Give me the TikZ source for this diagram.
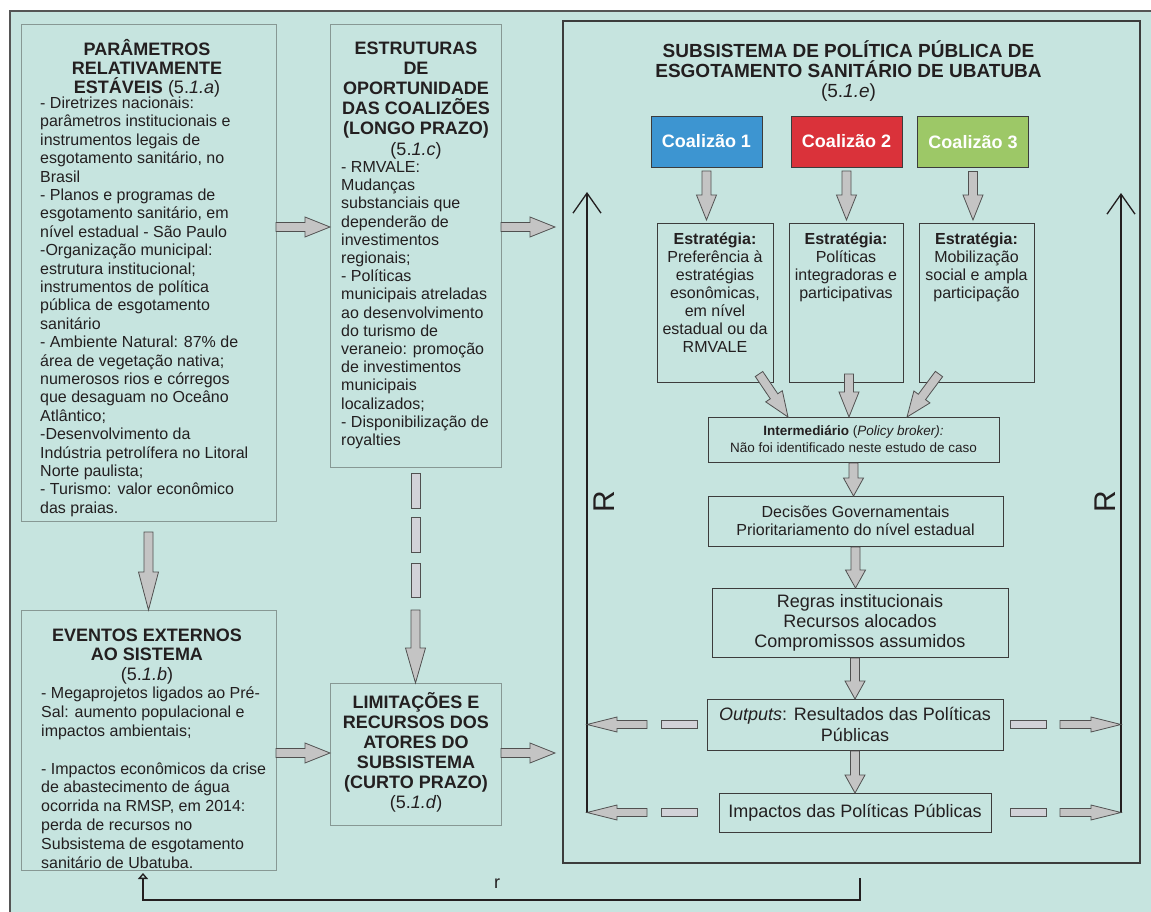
\documentclass[tikz,border=0pt]{standalone}
\usepackage{fontspec}
\setmainfont{Liberation Sans}
\usetikzlibrary{arrows.meta,calc}

\definecolor{bgteal}{RGB}{198,228,223}
\definecolor{frameline}{RGB}{85,85,85}
\definecolor{boxline}{RGB}{135,152,148}
\definecolor{darkline}{RGB}{60,60,60}
\definecolor{txt}{RGB}{35,31,32}
\definecolor{arrowfill}{RGB}{196,196,196}
\definecolor{dashfill}{RGB}{210,210,216}
\definecolor{arrowedge}{RGB}{80,80,80}
\definecolor{coalblue}{RGB}{61,149,209}
\definecolor{coalred}{RGB}{218,50,58}
\definecolor{coalgreen}{RGB}{157,200,103}

% fat grey arrows and dashes
\newcommand{\arrsw}{4.5pt}
\newcommand{\arrhw}{10pt}
\newcommand{\fatarrow}[3][25pt]{%
  \path (#2) coordinate (fa) (#3) coordinate (fb);
  \coordinate (fh) at ($(fb)!#1!(fa)$);
  \filldraw[fat arrow] ($(fa)!\arrsw!90:(fb)$) -- ($(fh)!\arrsw!-90:(fa)$)
    -- ($(fh)!\arrhw!-90:(fa)$) -- (fb) -- ($(fh)!\arrhw!90:(fa)$)
    -- ($(fh)!\arrsw!90:(fa)$) -- ($(fa)!\arrsw!-90:(fb)$) -- cycle;}
\newcommand{\fatdash}[2]{%
  \path (#1) coordinate (fa) (#2) coordinate (fb);
  \filldraw[fat dash] ($(fa)!\arrsw!90:(fb)$) -- ($(fb)!\arrsw!-90:(fa)$)
    -- ($(fb)!\arrsw!90:(fa)$) -- ($(fa)!\arrsw!-90:(fb)$) -- cycle;}

\begin{document}
\begin{tikzpicture}[x=1pt,y=-1pt,
    left box/.style={draw=boxline, line width=0.8pt, inner sep=0pt, outer sep=0pt},
    dark box/.style={draw=darkline, line width=0.8pt, inner sep=0pt, outer sep=0pt, align=center, text=txt},
    coal box/.style={draw=darkline, line width=0.8pt, inner sep=0pt, outer sep=0pt, minimum width=111pt, minimum height=51pt, text=white, font=\fontsize{18}{20}\selectfont\bfseries},
    head/.style={font=\fontsize{18}{19.5}\selectfont\bfseries, align=center, anchor=base, inner sep=0pt, text=txt},
    body/.style={font=\fontsize{16}{18.4}\selectfont, align=left, anchor=base west, inner sep=0pt, text=txt},
    strat/.style={font=\fontsize{16}{18}\selectfont, align=center, anchor=base, inner sep=0pt, text=txt},
    rlabel/.style={font=\fontsize{30}{30}\selectfont, rotate=90, inner sep=0pt, text=txt},
    fat arrow/.style={fill=arrowfill, draw=arrowedge, line width=0.8pt, line join=miter},
    fat dash/.style={fill=dashfill, draw=arrowedge, line width=0.8pt},
    r line/.style={draw=txt, line width=1.3pt, -{Straight Barb[length=20pt,width=28pt]}},
    feedback/.style={draw=txt, line width=1.3pt, -{Triangle[open,length=6pt,width=10pt]}, shorten >=3pt}]
  \useasboundingbox (0,0) rectangle (1151,911);
  \fill[white] (0,0) rectangle (1151,911);
  \filldraw[fill=bgteal, draw=frameline, line width=1.2pt] (10,11) rectangle (1170,930);

  % left column (text nodes sit on the baseline of their last line)
  \node[left box, minimum width=255pt, minimum height=497pt] (ptop) at (148.5,272.5) {};
  \node[head, font=\fontsize{18}{19}\selectfont\bfseries] (ptoph) at (147,93.5) {PARÂMETROS\\RELATIVAMENTE\\ESTÁVEIS {\mdseries(5.\textit{1.a})}};
  \node[body] (ptopt) at (40,513.3) {- Diretrizes nacionais:\\
    parâmetros institucionais e\\
    instrumentos legais de\\
    esgotamento sanitário, no\\
    Brasil\\
    - Planos e programas de\\
    esgotamento sanitário, em\\
    nível estadual - São Paulo\\
    -Organização municipal:\\
    estrutura institucional;\\
    instrumentos de política\\
    pública de esgotamento\\
    sanitário\\
    - Ambiente Natural: 87\% de\\
    área de vegetação nativa;\\
    numerosos rios e córregos\\
    que desaguam no Oceâno\\
    Atlântico;\\
    -Desenvolvimento da\\
    Indústria petrolífera no Litoral\\
    Norte paulista;\\
    - Turismo: valor econômico\\
    das praias.};

  \node[left box, minimum width=255pt, minimum height=260pt] (ext) at (148.5,740) {};
  \node[head] (exth) at (147,680) {EVENTOS EXTERNOS\\AO SISTEMA\\{\mdseries(5.\textit{1.b})}};
  \node[body, font=\fontsize{16}{18.8}\selectfont] (extt) at (41,868) {- Megaprojetos ligados ao Pré-\\
    Sal: aumento populacional e\\
    impactos ambientais;\\[18.8pt]
    - Impactos econômicos da crise\\
    de abastecimento de água\\
    ocorrida na RMSP, em 2014:\\
    perda de recursos no\\
    Subsistema de esgotamento\\
    sanitário de Ubatuba.};

  % middle column
  \node[left box, minimum width=171pt, minimum height=443pt] (etop) at (415.5,245.5) {};
  \node[head, font=\fontsize{18}{20}\selectfont\bfseries] (etoph) at (416,155) {ESTRUTURAS\\DE\\OPORTUNIDADE\\DAS COALIZÕES\\(LONGO PRAZO)\\[1pt]{\mdseries(5.\textit{1.c})}};
  \node[body, font=\fontsize{16}{18.2}\selectfont] (etopt) at (341,445.5) {- RMVALE:\\
    Mudanças\\
    substanciais que\\
    dependerão de\\
    investimentos\\
    regionais;\\
    - Políticas\\
    municipais atreladas\\
    ao desenvolvimento\\
    do turismo de\\
    veraneio: promoção\\
    de investimentos\\
    municipais\\
    localizados;\\
    - Disponibilização de\\
    royalties};

  \node[left box, minimum width=171pt, minimum height=142pt] (elim) at (415.5,754) {};
  \node[head, font=\fontsize{18}{20}\selectfont\bfseries] (elimh) at (416,808) {LIMITAÇÕES E\\RECURSOS DOS\\ATORES DO\\SUBSISTEMA\\(CURTO PRAZO)\\{\mdseries(5.\textit{1.d})}};

  % subsystem
  \node[dark box, line width=1.2pt, minimum width=577pt, minimum height=842pt] (sub) at (851.5,442) {};
  \node[head, font=\fontsize{19}{20}\selectfont\bfseries] (subh) at (848.5,97) {SUBSISTEMA DE POLÍTICA PÚBLICA DE\\ESGOTAMENTO SANITÁRIO DE UBATUBA\\{\mdseries(5.\textit{1.e})}};

  \node[coal box, fill=coalblue] (c1) at (706.5,141.5) {Coalizão 1};
  \node[coal box, fill=coalred] (c2) at (846.5,141.5) {Coalizão 2};
  \node[coal box, fill=coalgreen] (c3) at (973,142) {Coalizão 3};

  \node[dark box, minimum width=116pt, minimum height=159pt] (s1) at (715,302.5) {};
  \node[dark box, minimum width=114pt, minimum height=159pt] (s2) at (846,302.5) {};
  \node[dark box, minimum width=115pt, minimum height=159pt] (s3) at (976.5,302.5) {};
  \node[strat] (s1t) at ($(s1.north)+(0,129)$) {\textbf{Estratégia:}\\Preferência à\\estratégias\\esonômicas,\\em nível\\estadual ou da\\RMVALE};
  \node[strat] (s2t) at ($(s2.north)+(0,75)$) {\textbf{Estratégia:}\\Políticas\\integradoras e\\participativas};
  \node[strat] (s3t) at ($(s3.north)+(0,75)$) {\textbf{Estratégia:}\\Mobilização\\social e ampla\\participação};

  \node[dark box, minimum width=291pt, minimum height=45pt, font=\fontsize{13.5}{17}\selectfont] (inter) at (853.5,439.5) {\textbf{Intermediário} (\textit{Policy broker):}\\Não foi identificado neste estudo de caso};
  \node[dark box, minimum width=295pt, minimum height=50pt, font=\fontsize{16}{18}\selectfont] (dec) at (855.5,521) {Decisões Governamentais\\Prioritariamento do nível estadual};
  \node[dark box, minimum width=296pt, minimum height=69pt, font=\fontsize{18}{20}\selectfont] (reg) at (860,622.5) {Regras institucionais\\Recursos alocados\\Compromissos assumidos};
  \node[dark box, minimum width=296pt, minimum height=51pt, font=\fontsize{18}{21}\selectfont] (outp) at (855,724.5) {\textit{Outputs}: Resultados das Políticas\\Públicas};
  \node[dark box, minimum width=272pt, minimum height=39pt, font=\fontsize{18}{20}\selectfont] (imp) at (855,812.5) {Impactos das Políticas Públicas};

  \node[rlabel] (rleft) at (604,502) {R};
  \node[rlabel] (rright) at (1105,502) {R};
  \node[font=\fontsize{18}{20}\selectfont, text=txt, inner sep=0pt] (rsmall) at (497,884) {r};

  % helper coordinates
  \coordinate (r1) at (0,227);
  \coordinate (r2) at (0,753);
  \coordinate (rlb) at (587,812.5);
  \coordinate (rlt) at (587,192);
  \coordinate (rrb) at (1121,812.5);
  \coordinate (rrt) at (1121,193);
  \coordinate (rs) at (860,878);
  \coordinate (rb) at (0,900);

  % arrows
  \fatarrow{ptop.east |- r1}{etop.west |- r1}
  \fatarrow{etop.east |- r1}{$(sub.west |- r1)+(-8,0)$}
  \fatarrow[38pt]{$(ptop.south)+(0,11)$}{ext.north}
  \fatarrow{ext.east |- r2}{elim.west |- r2}
  \fatarrow{elim.east |- r2}{$(sub.west |- r2)+(-8,0)$}
  \fatdash{$(etop.south)+(0,6)$}{$(etop.south)+(0,41)$}
  \fatdash{$(etop.south)+(0,50)$}{$(etop.south)+(0,85)$}
  \fatdash{$(etop.south)+(0,96)$}{$(etop.south)+(0,130)$}
  \fatarrow[35pt]{$(etop.south)+(0,143)$}{elim.north}

  \fatarrow{$(c1.south)+(0,4)$}{$(c1.south |- s1.north)+(0,-3)$}
  \fatarrow{$(c2.south)+(0,4)$}{$(c2.south |- s2.north)+(0,-3)$}
  \fatarrow{$(c3.south)+(0,4)$}{$(c3.south |- s3.north)+(0,-3)$}
  \fatarrow{$(s1.south east)+(-14,-8)$}{$(inter.north west)+(80,0)$}
  \fatarrow{$(s2.south)+(3,-8)$}{$(s2.south |- inter.north)+(3,0)$}
  \fatarrow{$(s3.south west)+(20,-8)$}{$(inter.north east)+(-92,0)$}
  \fatarrow[18pt]{$(inter.south)+(0,1)$}{inter.south |- dec.north}
  \fatarrow[18pt]{$(dec.south)+(0,1)$}{dec.south |- reg.north}
  \fatarrow[18pt]{$(reg.south)+(-5,1)$}{$(reg.south |- outp.north)+(-5,0)$}
  \fatarrow[18pt]{$(outp.south)+(0,1)$}{outp.south |- imp.north}

  \draw[r line] (rlb) -- (rlt);
  \draw[r line] (rrb) -- (rrt);
  \begin{scope}
    \renewcommand{\arrsw}{4pt}
    \renewcommand{\arrhw}{7.5pt}
    \fatarrow[30pt]{$(rlb |- outp.west)+(60,0)$}{rlb |- outp.west}
    \fatdash{$(rlb |- outp.west)+(74,0)$}{$(rlb |- outp.west)+(110,0)$}
    \fatarrow[30pt]{$(rlb |- imp.west)+(60,0)$}{rlb |- imp.west}
    \fatdash{$(rlb |- imp.west)+(74,0)$}{$(rlb |- imp.west)+(110,0)$}
    \fatarrow[30pt]{$(rrb |- outp.east)+(-61,0)$}{rrb |- outp.east}
    \fatdash{$(rrb |- outp.east)+(-75,0)$}{$(rrb |- outp.east)+(-111,0)$}
    \fatarrow[30pt]{$(rrb |- imp.east)+(-61,0)$}{rrb |- imp.east}
    \fatdash{$(rrb |- imp.east)+(-75,0)$}{$(rrb |- imp.east)+(-111,0)$}
  \end{scope}

  \draw[feedback] (rs) -- (rs |- rb) -| ([xshift=-5.5pt]ext.south);
\end{tikzpicture}
\end{document}
